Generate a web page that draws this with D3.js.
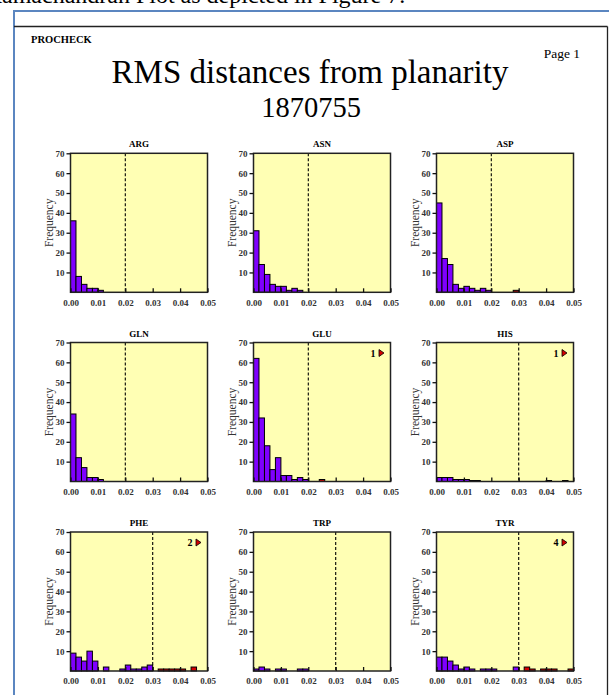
<!DOCTYPE html>
<html>
<head>
<meta charset="utf-8">
<script src="https://cdn.jsdelivr.net/npm/d3@7"></script>
<style>
  body { margin: 0; background: #fff; }
  svg { display: block; }
  text { font-family: "Liberation Serif", "Times New Roman", serif; }
</style>
</head>
<body>
<div id="chart"></div>
<script>
// residue panels, read row by row
var residues = ['ARG', 'ASN', 'ASP', 'GLN', 'GLU', 'HIS', 'PHE', 'TRP', 'TYR'];
var cutoffs = [0.02, 0.02, 0.02, 0.02, 0.02, 0.03, 0.03, 0.03, 0.03];
// counts that fall off the right of the plot (shown as "n >")
var offScale = [0, 0, 0, 0, 1, 1, 2, 0, 4];

// frequency per bin of 0.002
var argCounts = [36, 8, 4, 2, 2, 1];
var asnCounts = [31, 14, 9, 4, 3, 3, 1, 2, 1];
var aspCounts = [45, 17, 14, 4, 2, 3, 2, 1, 2, 1, 0, 0, 0, 0, 1];
var glnCounts = [34, 12, 7, 2, 2, 1];
var gluCounts = [62, 32, 18, 6, 12, 3, 3, 1, 2, 1, 0, 0, 1];
var hisCounts = [2, 2, 2, 1, 1, 1, 0.5, 0.5, 0, 0, 0, 0, 0, 0, 0, 0, 0, 0, 0, 0, 0.5, 0, 0, 0.5];
var pheCounts = [9, 7, 5, 10, 5, 0, 2, 0, 0, 1, 3, 1, 1, 2, 3, 0, 1, 1, 1, 1, 1, 0, 2];
var trpCounts = [1, 2, 1, 0, 1, 1, 0, 0, 1, 1];
var tyrCounts = [7, 7, 5, 3, 1, 2, 1, 0, 1, 1, 1, 0, 0, 0, 2, 0, 2, 1, 0, 1, 1, 1, 0, 0, 1];
var allCounts = [argCounts, asnCounts, aspCounts, glnCounts, gluCounts, hisCounts, pheCounts, trpCounts, tyrCounts];

var xTicks = [0, 0.01, 0.02, 0.03, 0.04, 0.05];
var yTicks = [10, 20, 30, 40, 50, 60, 70];
var binWidth = 0.002;

var W = 609, H = 695;
var plotW = 137, plotH = 139;
var colX = [70.5, 253.5, 436.5];
var rowY = [153.3, 342.5, 532];

var svg = d3.select('#chart').append('svg')
  .attr('width', W)
  .attr('height', H);

// text of the surrounding document, cut at the top
svg.append('text')
  .attr('x', -14)
  .attr('y', 3)
  .attr('font-size', 24)
  .text('Ramachandran Plot as depicted in Figure 7.');

// document frame
svg.append('line').attr('x1', 13).attr('x2', W).attr('y1', 11).attr('y2', 11)
  .attr('stroke', '#5b86c0').attr('stroke-width', 2);
svg.append('line').attr('x1', 14).attr('x2', 14).attr('y1', 10).attr('y2', H)
  .attr('stroke', '#5b86c0').attr('stroke-width', 2);
svg.append('line').attr('x1', 14).attr('x2', 607.5).attr('y1', 26.5).attr('y2', 26.5)
  .attr('stroke', '#222').attr('stroke-width', 1.3);
svg.append('line').attr('x1', 607.5).attr('x2', 607.5).attr('y1', 26.5).attr('y2', H)
  .attr('stroke', '#222').attr('stroke-width', 1.3);

svg.append('text')
  .attr('x', 31).attr('y', 43)
  .attr('font-size', 10.5).attr('font-weight', 'bold')
  .text('PROCHECK');

svg.append('text')
  .attr('x', 580).attr('y', 57.5)
  .attr('text-anchor', 'end')
  .attr('font-size', 13.5)
  .text('Page 1');

svg.append('text')
  .attr('x', 310).attr('y', 83)
  .attr('text-anchor', 'middle')
  .attr('font-size', 33)
  .text('RMS distances from planarity');

svg.append('text')
  .attr('x', 311).attr('y', 117)
  .attr('text-anchor', 'middle')
  .attr('font-size', 28.5)
  .text('1870755');

var x = d3.scaleLinear().domain([0, 0.05]).range([0, plotW]);
var y = d3.scaleLinear().domain([0, 70]).range([plotH, 0]);

residues.forEach(function(name, i) {
  var g = svg.append('g')
    .attr('transform', 'translate(' + colX[i % 3] + ',' + rowY[Math.floor(i / 3)] + ')');

  g.append('rect')
    .attr('width', plotW).attr('height', plotH)
    .attr('fill', '#ffffb4');

  var bins = allCounts[i].map(function(c, k) {
    return { x0: k * binWidth, x1: (k + 1) * binWidth, count: c };
  }).filter(function(b) { return b.count > 0; });

  g.selectAll('.bar')
    .data(bins)
    .enter()
    .append('rect')
    .attr('class', 'bar')
    .attr('x', function(d) { return x(d.x0); })
    .attr('width', function(d) { return x(d.x1) - x(d.x0); })
    .attr('y', function(d) { return y(d.count); })
    .attr('height', function(d) { return plotH - y(d.count); })
    .attr('fill', function(d) { return d.x0 < cutoffs[i] - 1e-9 ? '#7f00ff' : '#d40000'; })
    .attr('stroke', '#000')
    .attr('stroke-width', 1);

  g.append('line')
    .attr('x1', x(cutoffs[i])).attr('x2', x(cutoffs[i]))
    .attr('y1', 0).attr('y2', plotH)
    .attr('stroke', '#000')
    .attr('stroke-width', 1.1)
    .attr('stroke-dasharray', '3,2');

  g.append('rect')
    .attr('width', plotW).attr('height', plotH)
    .attr('fill', 'none')
    .attr('stroke', '#222')
    .attr('stroke-width', 1.5);

  var yAxis = g.append('g')
    .call(d3.axisLeft(y).tickValues(yTicks).tickSize(4).tickFormat(d3.format('d')));
  var xAxis = g.append('g')
    .attr('transform', 'translate(0,' + plotH + ')')
    .call(d3.axisBottom(x).tickValues(xTicks).tickSizeInner(-4).tickSizeOuter(0)
      .tickPadding(7).tickFormat(d3.format('.2f')));

  [yAxis, xAxis].forEach(function(a) {
    a.select('.domain').remove();
    a.selectAll('line').attr('stroke', '#111').attr('stroke-width', 1.3);
    a.selectAll('text')
      .attr('font-family', '"Liberation Serif", serif')
      .attr('font-size', 9)
      .attr('font-weight', 'bold')
      .attr('fill', '#333');
  });
  yAxis.selectAll('text').attr('x', -6);

  g.append('text')
    .attr('x', plotW / 2).attr('y', -6)
    .attr('text-anchor', 'middle')
    .attr('font-size', 9).attr('font-weight', 'bold')
    .text(name);

  g.append('text')
    .attr('transform', 'translate(-22,' + (plotH / 2) + ') rotate(-90)')
    .attr('text-anchor', 'middle')
    .attr('dy', '0.35em')
    .attr('font-size', 11.5)
    .attr('fill', '#333')
    .text('Frequency');

  if (offScale[i] > 0) {
    g.append('text')
      .attr('x', plotW - 15).attr('y', 14)
      .attr('text-anchor', 'end')
      .attr('font-size', 10).attr('font-weight', 'bold')
      .text(offScale[i]);
    g.append('path')
      .attr('d', 'M' + (plotW - 11.5) + ',7 L' + (plotW - 6.5) + ',10.5 L' + (plotW - 11.5) + ',14 Z')
      .attr('fill', '#d40000')
      .attr('stroke', '#000')
      .attr('stroke-width', 0.8);
  }
});
</script>
</body>
</html>
